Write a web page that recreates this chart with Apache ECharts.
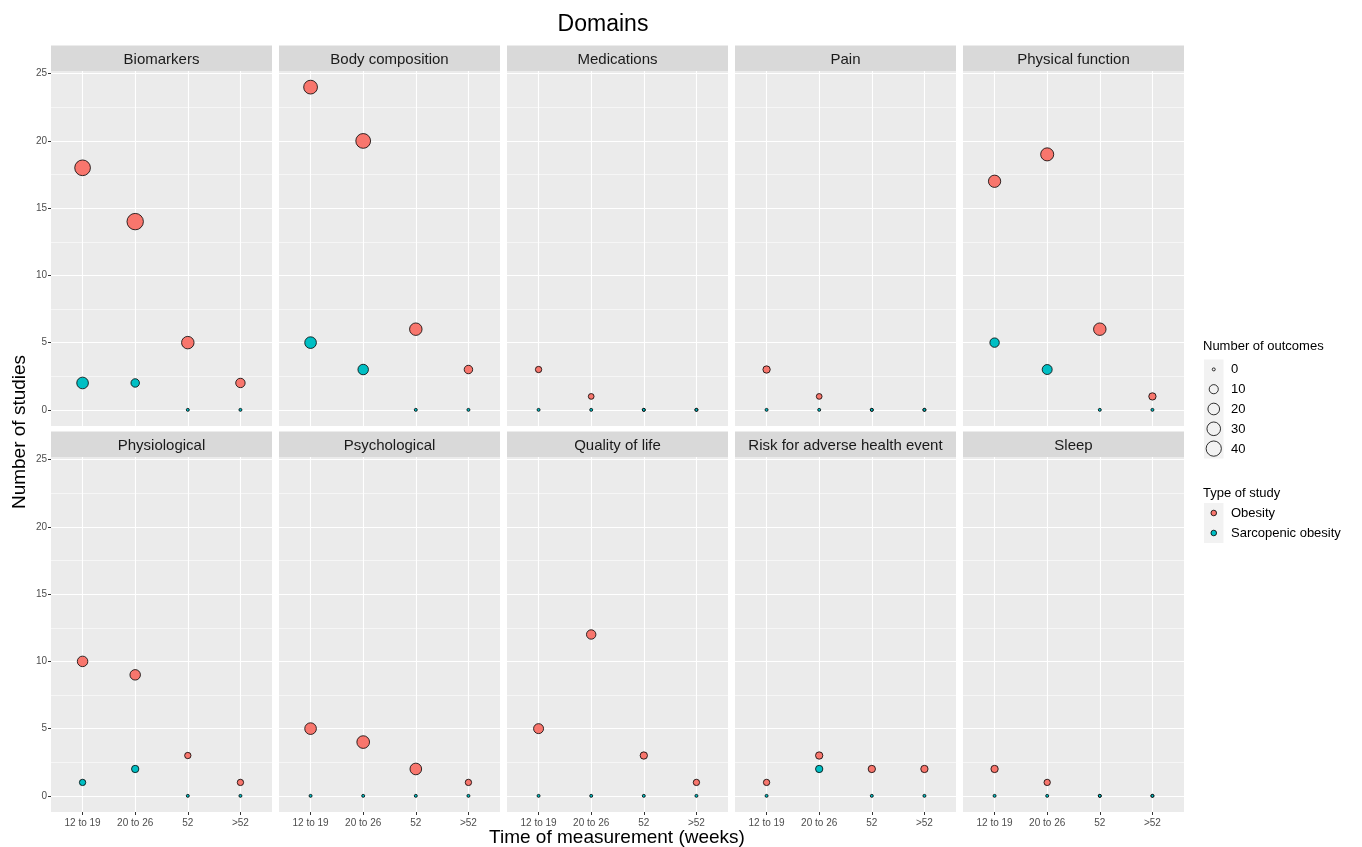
<!DOCTYPE html>
<html><head><meta charset="utf-8">
<script src="https://cdn.jsdelivr.net/npm/echarts@6/dist/echarts.min.js"></script>
<style>html,body{margin:0;padding:0;background:#fff}#c{width:1362px;height:847px}</style>
</head><body><div id="c"></div>
<script>
// ---- data ----
const categories = ['12 to 19', '20 to 26', '52', '>52'];
const domains = ['Biomarkers', 'Body composition', 'Medications', 'Pain', 'Physical function',
                 'Physiological', 'Psychological', 'Quality of life', 'Risk for adverse health event', 'Sleep'];
// number of studies per domain, per time category
const obesityStudies = [
  [18, 14, 5, 2], [24, 20, 6, 3], [3, 1, 0, 0], [3, 1, 0, 0], [17, 19, 6, 1],
  [10, 9, 3, 1], [5, 4, 2, 1], [5, 12, 3, 1], [1, 3, 2, 2], [2, 1, 0, 0]
];
const sarcopenicStudies = [
  [2, 2, 0, 0], [5, 3, 0, 0], [0, 0, 0, 0], [0, 0, 0, 0], [5, 3, 0, 0],
  [1, 2, 0, 0], [0, 0, 0, 0], [0, 0, 0, 0], [0, 2, 0, 0], [0, 0, 0, 0]
];
// number of outcomes per domain, per time category
const obesityOutcomes = [
  [43, 48, 24, 11], [31, 37, 24, 8], [3, 2, 0, 0], [5, 2, 0, 0], [23, 27, 24, 5],
  [15, 15, 3, 3], [20, 25, 20, 3], [13, 11, 5, 3], [3, 5, 5, 5], [5, 3, 0, 0]
];
const sarcopenicOutcomes = [
  [20, 8, 0, 0], [20, 15, 0, 0], [0, 0, 0, 0], [0, 0, 0, 0], [11, 13, 0, 0],
  [3, 5, 0, 0], [0, 0, 0, 0], [0, 0, 0, 0], [0, 5, 0, 0], [0, 0, 0, 0]
];
const yMajorTicks = [0, 5, 10, 15, 20, 25];
const yMinorTicks = [2.5, 7.5, 12.5, 17.5, 22.5];
const sizeBreaks = [0, 10, 20, 30, 40];
const typeNames = ['Obesity', 'Sarcopenic obesity'];

// ---- style / layout ----
const FONT = '"Liberation Sans", Arial, Helvetica, sans-serif';
const COLORS = ['#F8766D', '#00BFC4'];
const MAX_OUT = 60;
function sizeOf(n) { return 3.0 * (1 + 5 * Math.sqrt(n / MAX_OUT)); }
const PW = 221, PH = 355, STRIP_H = 25.5;
const colLeft = c => 51 + c * 228;
const rowTop = [71, 457];
const xPos = categories.map((_, k) => k + 1);

const grids = [], xAxes = [], yAxes = [], series = [], graphics = [];
domains.forEach((name, i) => {
  const r = Math.floor(i / 5), c = i % 5;
  const L = colLeft(c), T = rowTop[r];
  grids.push({ left: L, top: T, width: PW, height: PH, show: true,
               backgroundColor: '#EBEBEB', borderWidth: 0 });
  xAxes.push({
    type: 'value', gridIndex: i, min: 0.4, max: 4.6, position: 'bottom',
    axisLine: { show: false, onZero: false },
    axisTick: { show: r === 1, customValues: xPos, length: 3, lineStyle: { color: '#333333', width: 1 } },
    axisLabel: { show: r === 1, customValues: xPos, formatter: v => categories[Math.round(v) - 1],
                 fontSize: 10, color: '#4D4D4D', margin: 6, fontFamily: FONT },
    splitLine: { show: true, lineStyle: { color: '#FFFFFF', width: 1.1 } }
  });
  yAxes.push({
    type: 'value', gridIndex: i, min: -1.2, max: 25.2, position: 'left',
    axisLine: { show: false, onZero: false },
    axisTick: { show: c === 0, customValues: yMajorTicks, length: 3, lineStyle: { color: '#333333', width: 1 } },
    axisLabel: { show: c === 0, customValues: yMajorTicks, fontSize: 10, color: '#4D4D4D', margin: 4, fontFamily: FONT },
    splitLine: { show: true, lineStyle: { color: '#FFFFFF', width: 1.1 } }
  });
  yAxes.push({
    type: 'value', gridIndex: i, min: -1.2, max: 25.2, position: 'left',
    axisLine: { show: false, onZero: false },
    axisTick: { show: false, customValues: yMinorTicks },
    axisLabel: { show: false, customValues: yMinorTicks },
    splitLine: { show: true, lineStyle: { color: '#FFFFFF', width: 0.55 } }
  });
  const studies = [obesityStudies[i], sarcopenicStudies[i]];
  const outcomes = [obesityOutcomes[i], sarcopenicOutcomes[i]];
  [0, 1].forEach(t => {
    series.push({
      type: 'scatter', name: typeNames[t], xAxisIndex: i, yAxisIndex: 2 * i,
      data: categories.map((_, k) => [xPos[k], studies[t][k], outcomes[t][k]]),
      symbolSize: v => sizeOf(v[2]),
      itemStyle: { color: COLORS[t], borderColor: '#000000', borderWidth: 0.8, opacity: 1 },
      silent: true, z: 3 + t
    });
  });
  // strip
  graphics.push({ type: 'rect', shape: { x: L, y: T - STRIP_H, width: PW, height: STRIP_H },
                  style: { fill: '#D9D9D9' }, silent: true });
  graphics.push({ type: 'text', x: L + PW / 2, y: T - STRIP_H / 2 + 1.5,
                  style: { text: name, fill: '#1A1A1A', font: '15px ' + FONT, align: 'center', verticalAlign: 'middle' } });
});

// titles
graphics.push({ type: 'text', x: 603, y: 25,
  style: { text: 'Domains', fill: '#000', font: '23px ' + FONT, align: 'center', verticalAlign: 'middle' } });
graphics.push({ type: 'text', x: 617, y: 838,
  style: { text: 'Time of measurement (weeks)', fill: '#000', font: '19px ' + FONT, align: 'center', verticalAlign: 'middle' } });
graphics.push({ type: 'text', x: 20, y: 432, rotation: Math.PI / 2,
  style: { text: 'Number of studies', fill: '#000', font: '19px ' + FONT, align: 'center', verticalAlign: 'middle' } });

// size legend
graphics.push({ type: 'text', x: 1203, y: 346,
  style: { text: 'Number of outcomes', fill: '#000', font: '13px ' + FONT, align: 'left', verticalAlign: 'middle' } });
const K1 = 19.8, k1Top = 359.5;
graphics.push({ type: 'rect', shape: { x: 1204, y: k1Top, width: 19.5, height: K1 * sizeBreaks.length },
                style: { fill: '#F2F2F2' } });
sizeBreaks.forEach((b, k) => {
  const cy = k1Top + K1 * (k + 0.5);
  graphics.push({ type: 'circle', shape: { cx: 1213.75, cy: cy, r: sizeOf(b) / 2 },
                  style: { fill: 'none', stroke: '#000', lineWidth: 0.8 } });
  graphics.push({ type: 'text', x: 1231, y: cy + 0.5,
                  style: { text: String(b), fill: '#000', font: '13px ' + FONT, align: 'left', verticalAlign: 'middle' } });
});
// type legend
graphics.push({ type: 'text', x: 1203, y: 493,
  style: { text: 'Type of study', fill: '#000', font: '13px ' + FONT, align: 'left', verticalAlign: 'middle' } });
const K2 = 20, k2Top = 503;
graphics.push({ type: 'rect', shape: { x: 1204, y: k2Top, width: 19.5, height: K2 * 2 }, style: { fill: '#F2F2F2' } });
typeNames.forEach((nm, k) => {
  const cy = k2Top + K2 * (k + 0.5);
  graphics.push({ type: 'circle', shape: { cx: 1213.75, cy: cy, r: 2.8 },
                  style: { fill: COLORS[k], stroke: '#000', lineWidth: 0.8 } });
  graphics.push({ type: 'text', x: 1231, y: cy + 0.5,
                  style: { text: nm, fill: '#000', font: '13px ' + FONT, align: 'left', verticalAlign: 'middle' } });
});

const chart = echarts.init(document.getElementById('c'), null, { renderer: 'canvas' });
chart.setOption({
  animation: false,
  backgroundColor: '#FFFFFF',
  textStyle: { fontFamily: FONT },
  grid: grids, xAxis: xAxes, yAxis: yAxes, series: series,
  graphic: graphics
});
</script></body></html>
